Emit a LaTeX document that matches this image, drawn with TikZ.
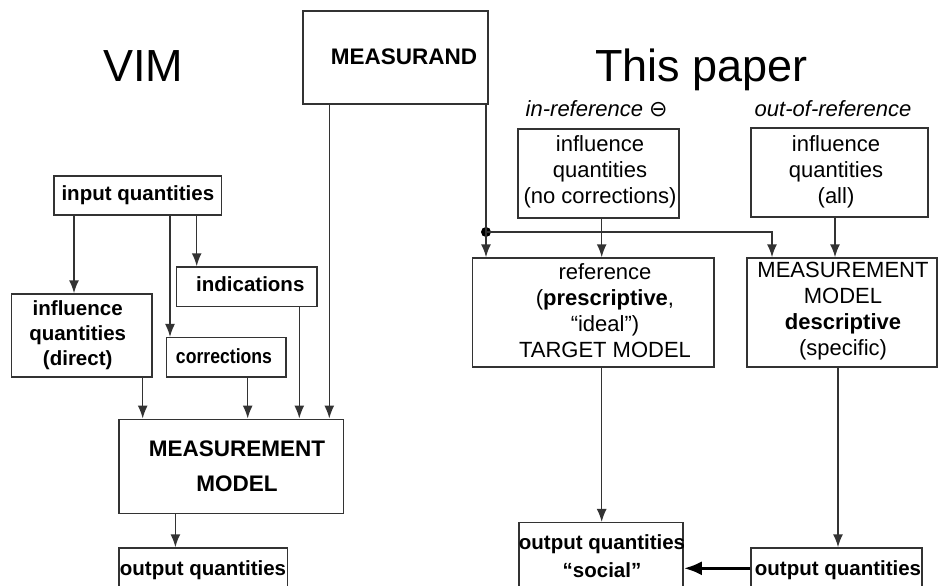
\documentclass[tikz,border=0pt]{standalone}
\usepackage{fontspec}
\setmainfont{Liberation Sans}
\newfontfamily\symfont{DejaVu Sans}
\usetikzlibrary{arrows.meta}
\definecolor{ln}{HTML}{333333}
\tikzset{
  box/.style={draw=ln, line width=1.5pt, inner sep=0pt, align=center},
  reg/.style={font=\fontsize{22}{26}\selectfont},
  bld/.style={font=\fontsize{20.5}{25}\selectfont\bfseries},
  arr/.style={draw=ln, line width=1.5pt, -{Latex[length=13pt,width=10pt]}},
  bigarr/.style={draw=black, line width=3.3pt, -{Latex[length=18pt,width=14pt]}},
  conn/.style={draw=ln, line width=1.5pt},
  txt/.style={inner sep=0pt, align=center},
}
\begin{document}
\begin{tikzpicture}[x=1pt,y=-1pt]
\useasboundingbox (0,0) rectangle (940,586);
\fill[white] (0,0) rectangle (940,586);
\begin{scope}
\clip (0,0) rectangle (940,586);

% titles
\node[txt, font=\fontsize{45}{54}\selectfont, anchor=base] (vim) at (143.3,81.7) {VIM};
\node[txt, font=\fontsize{45}{54}\selectfont, anchor=base] (thispaper) at (701.7,81.7) {This paper};
\node[txt, font=\fontsize{22}{26}\selectfont\itshape, anchor=base] (inref) at (596.7,116) {in-reference {\symfont\upshape ⊖}};
\node[txt, font=\fontsize{22}{26}\selectfont\itshape, anchor=base] (outref) at (833,116) {out-of-reference};

% measurand
\node[box, minimum width=185pt, minimum height=93pt] (meas) at (395.5,57.5) {};
\node[txt, font=\fontsize{22.5}{27}\selectfont\bfseries, anchor=base] (meast) at (404,65) {MEASURAND};

% VIM side
\node[box, bld, minimum width=167.7pt, minimum height=39pt] (inq) at (137.85,195.5) {input quantities};
\node[box, minimum width=140.3pt, minimum height=83pt] (infD) at (81.85,335.5) {};
\node[txt, bld] (infDt) at (77.7,335) {influence\\quantities\\(direct)};
\node[box, minimum width=140.3pt, minimum height=39.7pt] (ind) at (246.85,286.85) {};
\node[txt, bld] (indt) at (250.3,284) {indications};
\node[box, minimum width=119.3pt, minimum height=39.3pt] (corr) at (226.35,357.35) {};
\node[txt, bld] (corrt) at (224,356) {\scalebox{0.86}[1]{corrections}};
\node[box, minimum width=224.6pt, minimum height=94pt] (mmL) at (231.1,466.3) {};
\node[txt, font=\fontsize{22.5}{35}\selectfont\bfseries] (mmLt) at (237,466) {MEASUREMENT\\MODEL};
\node[box, minimum width=168.6pt, minimum height=62pt] (outL) at (203.1,579) {};
\node[txt, bld] (outLt) at (203,570) {output quantities};

% This paper side
\node[box, reg, minimum width=161pt, minimum height=89pt] (infNC) at (598.5,173.5) {};
\node[txt, reg] (infNCt) at (600,172) {influence\\quantities\\(no corrections)};
\node[box, minimum width=177pt, minimum height=89pt] (infAll) at (839.5,172.5) {};
\node[txt, reg] (infAllt) at (836,171.5) {influence\\quantities\\(all)};
\node[box, minimum width=241.3pt, minimum height=109pt] (ref) at (593.35,312.5) {};
\node[txt, reg] (reft) at (605,311) {reference\\(\textbf{prescriptive},\\“ideal”)\\TARGET MODEL};
\node[box, minimum width=190pt, minimum height=109pt] (mmR) at (842,312.5) {};
\node[txt, reg] (mmRt) at (843,311.5) {MEASUREMENT\\MODEL\\\textbf{descriptive}\\(specific)};
\node[box, minimum width=164pt, minimum height=87.3pt] (social) at (601,566.35) {};
\node[txt, font=\fontsize{20.5}{28}\selectfont\bfseries] (socialt) at (602,556) {output quantities\\“social”};
\node[box, minimum width=171pt, minimum height=62pt] (outR) at (836.5,579) {};
\node[txt, bld] (outRt) at (838,570) {output quantities};

% helper coordinates
\coordinate (xa) at (74,0);
\coordinate (xb) at (170,0);
\coordinate (xc) at (196.7,0);
\coordinate (xd) at (142.7,0);
\coordinate (xe) at (247.7,0);
\coordinate (xf) at (299.3,0);
\coordinate (xg) at (329.3,0);
\coordinate (xh) at (175.4,0);
\coordinate (xi) at (601.7,0);
\coordinate (xj) at (835,0);
\coordinate (xk) at (838,0);
\coordinate (cR) at (772,232);
\coordinate (ya) at (0,568.3);
\node[circle, fill=black, inner sep=0pt, minimum size=10pt] (dot) at (486,232) {};

% VIM connectors
\draw[arr] (inq.south -| xa) -- (infD.north -| xa);
\draw[arr] (inq.south -| xb) -- (corr.north -| xb);
\draw[arr] (inq.south -| xc) -- (ind.north -| xc);
\draw[arr] (infD.south -| xd) -- (mmL.north -| xd);
\draw[arr] (corr.south -| xe) -- (mmL.north -| xe);
\draw[arr] (ind.south -| xf) -- (mmL.north -| xf);
\draw[arr] (meas.south -| xg) -- (mmL.north -| xg);
\draw[arr] (mmL.south -| xh) -- (outL.north -| xh);

% This paper connectors
\draw[conn] (meas.south -| dot) -- (dot.center);
\draw[arr] (dot.center) -- (ref.north -| dot);
\draw[arr] (dot.center) -- (cR) -- (mmR.north -| cR);
\draw[arr] (infNC.south -| xi) -- (ref.north -| xi);
\draw[arr] (infAll.south -| xj) -- (mmR.north -| xj);
\draw[arr] (ref.south -| xi) -- (social.north -| xi);
\draw[arr] (mmR.south -| xk) -- (outR.north -| xk);
\draw[bigarr] (outR.west |- ya) -- (social.east |- ya);
\end{scope}
\end{tikzpicture}
\end{document}
